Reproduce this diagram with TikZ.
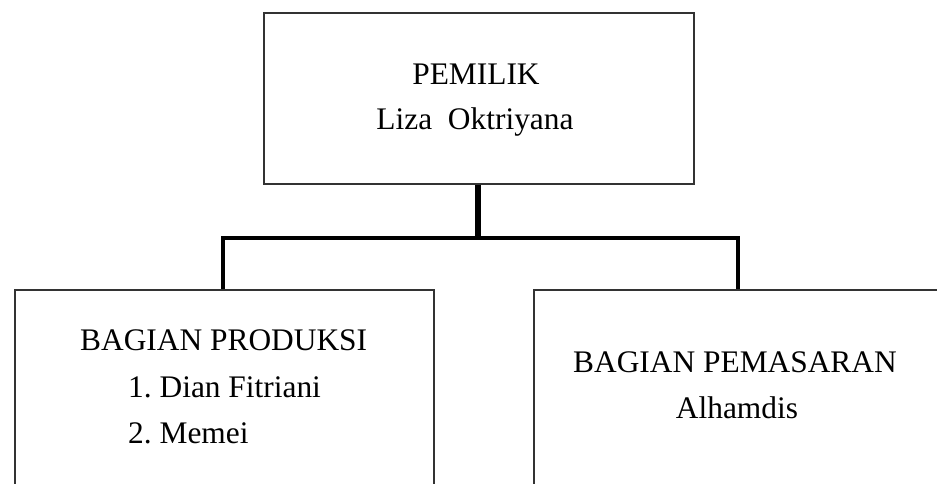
\documentclass[tikz,border=0pt]{standalone}
\usepackage{fontspec}
\setmainfont{Liberation Serif}
\usetikzlibrary{shadows}
\frenchspacing
\begin{document}
\begin{tikzpicture}[x=1pt,y=-1pt,
  box/.style={draw=black!80, line width=1.8pt, fill=white, rectangle, inner sep=0pt,
     drop shadow={shadow xshift=1.2pt, shadow yshift=-1.2pt, opacity=0.35, fill=black!60}},
  lbl/.style={anchor=base, inner sep=0pt, font=\fontsize{31.4}{38}\selectfont},
  conn/.style={line width=4.2pt, line cap=rect}]
\useasboundingbox (0,0) rectangle (937,484);
\begin{scope}
\clip (0,0) rectangle (937,484);
% boxes
\node[box, minimum width=430pt, minimum height=171pt, anchor=north west] (top) at (263,12) {};
\node[box, minimum width=419pt, minimum height=220pt, anchor=north west] (prod) at (14,289) {};
\node[box, minimum width=420pt, minimum height=220pt, anchor=north west] (pem) at (533,289) {};
\end{scope}
% texts
\node[lbl] (t1) at (476,85) {PEMILIK};
\node[lbl] (t2) at (475,130) {Liza\ \ Oktriyana};
\node[lbl, anchor=base west] (p1) at (80,350) {BAGIAN PRODUKSI};
\node[lbl, anchor=base west] (p2) at (128,397) {1. Dian Fitriani};
\node[lbl, anchor=base west] (p3) at (128,443) {2. Memei};
\node[lbl] (m1) at (735,372) {BAGIAN PEMASARAN};
\node[lbl] (m2) at (737,418) {Alhamdis};
% connectors
\coordinate (jl) at (223,238);
\coordinate (jr) at (738,238);
\draw[conn, line width=6pt, line cap=butt] (top.south -| 478,0) -- (478,238);
\draw[conn, line cap=butt] (prod.north -| jl) -- (jl) -- (jr) -- (pem.north -| jr);
\end{tikzpicture}
\end{document}
